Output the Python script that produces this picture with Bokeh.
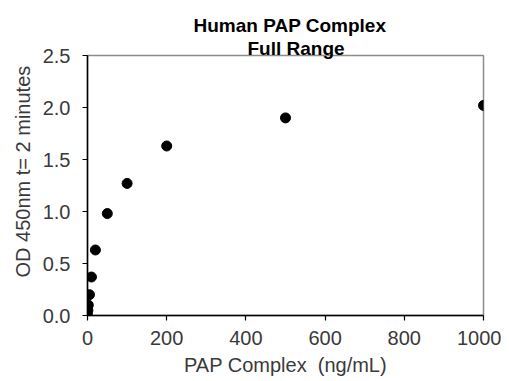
from bokeh.plotting import figure
from bokeh.models import FixedTicker, NumeralTickFormatter, Range1d, Title
from bokeh.embed import file_html
from bokeh.resources import INLINE

conc = [0, 1, 2, 5, 10, 20, 50, 100, 200, 500, 1000]
od = [0.01, 0.05, 0.10, 0.20, 0.37, 0.63, 0.98, 1.27, 1.63, 1.90, 2.02]
x_ticks = [0, 200, 400, 600, 800, 1000]
y_ticks = [0.0, 0.5, 1.0, 1.5, 2.0, 2.5]

FONT = "Liberation Sans"
TXT = "#3a3a3a"

p = figure(width=501, height=378, output_backend="svg", toolbar_location=None,
           x_range=Range1d(0, 1000), y_range=Range1d(0, 2.5),
           min_border_left=87, min_border_right=18, min_border_top=55, min_border_bottom=63)

p.scatter(conc, od, size=10, color="black")

t2 = Title(text="Full Range", align="left", text_font=FONT, text_font_size="19px",
           text_font_style="bold", text_color="black", offset=160, standoff=-6)
t1 = Title(text="Human PAP Complex", align="left", text_font=FONT, text_font_size="19px",
           text_font_style="bold", text_color="black", offset=106, standoff=6)
p.add_layout(t2, "above")
p.add_layout(t1, "above")

p.grid.visible = False
p.outline_line_color = "#8c8c8c"
p.outline_line_width = 1.5
p.background_fill_color = "white"
p.border_fill_color = "white"

for ax in (p.xaxis[0], p.yaxis[0]):
    ax.axis_line_color = "black"
    ax.axis_line_width = 1.5
    ax.major_tick_line_color = "black"
    ax.major_tick_line_width = 1.2
    ax.major_tick_in = 0
    ax.major_tick_out = 5
    ax.minor_tick_line_color = None
    ax.major_label_text_font = FONT
    ax.major_label_text_font_size = "20px"
    ax.major_label_text_color = TXT
    ax.axis_label_text_font = FONT
    ax.axis_label_text_font_size = "20px"
    ax.axis_label_text_font_style = "normal"
    ax.axis_label_text_color = TXT

p.xaxis.ticker = FixedTicker(ticks=x_ticks)
p.yaxis.ticker = FixedTicker(ticks=y_ticks)
p.yaxis.formatter = NumeralTickFormatter(format="0.0")
p.xaxis.axis_label = "PAP Complex\u00a0 (ng/mL)"
p.yaxis.axis_label = "\u00a0" * 5 + "OD 450nm t= 2 minutes"
p.xaxis.major_label_standoff = 10
p.yaxis.major_label_standoff = 12
p.xaxis.axis_label_standoff = 6
p.yaxis.axis_label_standoff = 6

open("out.html", "w").write(file_html(p, INLINE))
